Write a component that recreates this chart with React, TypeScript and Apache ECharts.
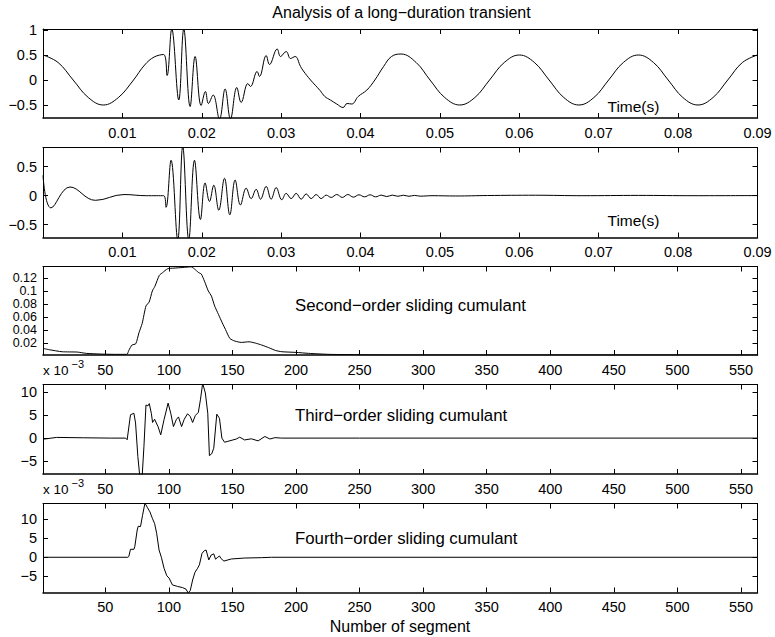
import React, { useEffect, useRef } from "react";
import * as echarts from "echarts";

// ---------- Data ----------
// Panel 1: original signal (time in s)
const sigTime = [
  0, 0.0019, 0.0038, 0.0057, 0.0076, 0.0095, 0.0114, 0.0128, 0.014, 0.0152,
  0.01563, 0.01622, 0.0171, 0.01773, 0.01853, 0.01916, 0.01992, 0.02046, 0.02084, 0.02143,
  0.02223, 0.02294, 0.02361, 0.02441, 0.02496, 0.0258, 0.02613, 0.02697, 0.02727, 0.02811,
  0.02853, 0.0295, 0.02992, 0.03063, 0.03118, 0.03176, 0.03244, 0.0328, 0.0337, 0.0349,
  0.0355, 0.0362, 0.037, 0.0378, 0.0383, 0.0389, 0.0397, 0.0408, 0.0418, 0.0429,
  0.0439, 0.0451, 0.047, 0.04875, 0.0506, 0.0525, 0.0544, 0.05625, 0.0581, 0.06,
  0.0619, 0.06375, 0.0656, 0.0675, 0.0694, 0.07125, 0.0731, 0.075, 0.0769, 0.07875,
  0.0806, 0.0825, 0.0844, 0.08625, 0.0881, 0.09,
];
const sigValue = [
  0.5, 0.35, 0, -0.35, -0.5, -0.35, 0, 0.3, 0.46, 0.51,
  0.09, 1.02, -0.4, 1.02, -0.53, 0.47, -0.51, -0.23, -0.47, -0.3,
  -0.78, -0.18, -0.78, -0.15, -0.45, -0.07, -0.13, 0.17, 0.07, 0.49,
  0.31, 0.62, 0.47, 0.57, 0.43, 0.47, 0.27, 0.18, 0, -0.21,
  -0.33, -0.4, -0.48, -0.55, -0.47, -0.48, -0.33, -0.2, 0, 0.27,
  0.47, 0.52, 0.35, 0, -0.35, -0.5, -0.35, 0, 0.35, 0.5,
  0.35, 0, -0.35, -0.5, -0.35, 0, 0.35, 0.5, 0.35, 0,
  -0.35, -0.5, -0.35, 0, 0.35, 0.5,
];

// Panel 2: transient component (time in s)
const transTime = [
  0, 0.001, 0.0034, 0.0066, 0.0102, 0.013, 0.0152, 0.0155, 0.01613, 0.01697,
  0.0176, 0.01836, 0.01908, 0.01983, 0.02042, 0.02097, 0.02151, 0.02214, 0.02286, 0.02353,
  0.0242, 0.02487, 0.02559, 0.02622, 0.02685, 0.0274, 0.02811, 0.02874, 0.02937, 0.03008,
  0.03063, 0.03126, 0.03189, 0.03252, 0.03315, 0.03378, 0.03441, 0.03504, 0.03567, 0.0363,
  0.037, 0.0377, 0.0384, 0.0391, 0.0398, 0.0405, 0.0412, 0.0419, 0.0426, 0.0433,
  0.044, 0.0447, 0.0454, 0.0461, 0.0468, 0.0475, 0.049, 0.052, 0.056, 0.062,
  0.068, 0.075, 0.082, 0.09,
];
const transValue = [
  0.35, -0.21, 0.15, -0.08, 0.02, 0, 0, -0.2, 0.61, -0.76,
  0.85, -0.76, 0.61, -0.41, 0.22, -0.1, 0.18, -0.25, 0.3, -0.33,
  0.27, -0.16, 0.13, -0.05, 0.11, -0.06, 0.16, -0.06, 0.14, -0.07,
  0.04, -0.05, 0.04, -0.06, 0.03, -0.05, 0.02, -0.05, 0.01, -0.03,
  0.02, -0.03, 0.02, -0.025, 0.015, -0.02, 0.015, -0.02, 0.01, -0.015,
  0.01, -0.01, 0.008, -0.01, 0.005, -0.008, 0, -0.005, 0.003, 0.008,
  0, 0.005, 0, 0.002,
];

// Panel 3: second-order sliding cumulant (segment index)
const c2Segment = [
  1, 6, 16, 28, 35, 46, 57, 67, 68.5, 71,
  74, 76.5, 79, 82, 84.5, 87, 89, 92.5, 95, 99,
  104, 111, 117.5, 120, 123.5, 125.5, 128, 131, 133.5, 136,
  139, 142, 144.5, 148, 152, 157, 163, 168, 173, 178.5,
  184, 189, 200, 210, 226, 245, 258, 300, 400, 563,
];
const c2Value = [
  0.0118, 0.0098, 0.0067, 0.0062, 0.0042, 0.0032, 0.0027, 0.0027, 0.0088, 0.017,
  0.019, 0.036, 0.05, 0.077, 0.083, 0.1, 0.107, 0.124, 0.128, 0.134,
  0.135, 0.136, 0.137, 0.134, 0.128, 0.126, 0.115, 0.1, 0.092, 0.077,
  0.064, 0.051, 0.041, 0.027, 0.023, 0.021, 0.022, 0.02, 0.017, 0.013,
  0.0086, 0.0067, 0.0057, 0.0042, 0.0027, 0.0022, 0.0018, 0.0017, 0.0017, 0.0017,
];

// Panel 4: third-order sliding cumulant (x 10^-3)
const c3Segment = [
  1, 2.3, 11.6, 33, 54, 66, 67.2, 69.8, 72.5, 73.8,
  75.6, 77.2, 79, 80.4, 82, 83.5, 84.6, 86.2, 87.2, 88.8,
  90.1, 91.5, 93.6, 96.2, 99.4, 101.5, 103.6, 106, 107.6, 110,
  112.1, 114.7, 116.8, 118.7, 120.8, 123.2, 124.8, 126.6, 128.7, 130.6,
  131.9, 133.7, 135.3, 137.7, 139.8, 141.7, 143.8, 146.4, 150.4, 153,
  155.7, 159.6, 164.9, 170.2, 175.5, 179.5, 183.4, 188.7, 250, 563,
];
const c3Value = [
  -0.2, -0.2, 0.15, 0.07, 0, 0, -0.36, 5.07, 5.4, 3.3,
  -4, -8.5, -8.3, -1.8, 7.2, 7.0, 7.5, 5.4, 3.4, 4.1,
  3.3, 2.5, 0.7, 4, 7.6, 5.4, 2.5, 4.1, 4.6, 2.5,
  4.1, 5.3, 4.7, 3.4, 4.9, 5.6, 8.3, 11.9, 9.8, 5.4,
  -3.8, -3.4, -2.2, 5.2, 4.3, 0, -0.9, -0.7, -0.4, -0.2,
  0.2, -0.4, -0.15, -0.6, 0.35, -0.2, 0.1, 0, 0, 0,
];

// Panel 5: fourth-order sliding cumulant (x 10^-3)
const c4Segment = [
  1, 67.7, 68.5, 69.8, 72.5, 73.2, 75.1, 75.9, 77.7, 79.3,
  81.2, 83, 85.1, 87, 88.8, 90.4, 92.3, 94.1, 96.2, 98.4,
  100.2, 102.8, 106.8, 110.7, 113.4, 115.2, 116.8, 118.7, 120.5, 122.6,
  124, 126.1, 127.9, 129.3, 131.4, 133.3, 135.3, 136.7, 138.5, 139.8,
  141.1, 143.3, 149.1, 159.6, 172.8, 180.8, 563,
];
const c4Value = [
  0, 0, 0.2, 2.1, 2.1, 2.8, 7.2, 8.2, 8.1, 11.1,
  14.3, 13.2, 12, 10.3, 8.9, 6.3, 1.9, 0, -2.9, -4.9,
  -5.5, -7.3, -7.7, -8.0, -8.4, -9.4, -8.8, -6, -4, -2.9,
  -2, 1.05, 1.75, 1.9, -0.7, 0.6, 0.9, -0.5, 0, 0.35,
  -0.35, -1.0, -0.45, -0.2, -0.1, 0, 0,
];

// Tick labels
const timeTicks = [0.01, 0.02, 0.03, 0.04, 0.05, 0.06, 0.07, 0.08, 0.09];
const segmentTicks = [50, 100, 150, 200, 250, 300, 350, 400, 450, 500, 550];
const sigYTicks = [-0.5, 0, 0.5, 1];
const transYTicks = [-0.5, 0, 0.5];
const c2YTicks = [0.02, 0.04, 0.06, 0.08, 0.1, 0.12];
const c3YTicks = [-5, 0, 5, 10];
const c4YTicks = [-5, 0, 5, 10];

const FONT = '"Liberation Sans", Arial, Helvetica, sans-serif';
const TICK_FS = 14.5;

export default function App() {
  const ref = useRef<HTMLDivElement>(null);

  useEffect(() => {
    if (!ref.current) return;
    const chart = echarts.init(ref.current, undefined, { renderer: "svg" });

    const panels = [
      { top: 29, height: 89, x: [0, 0.09], xt: timeTicks, y: [-0.76, 1.02], yt: sigYTicks, yfs: TICK_FS, xs: sigTime, ys: sigValue, smooth: 0.4 },
      { top: 147.5, height: 90, x: [0, 0.09], xt: timeTicks, y: [-0.72, 0.83], yt: transYTicks, yfs: TICK_FS, xs: transTime, ys: transValue, smooth: 0.4 },
      { top: 266.5, height: 88.5, x: [1, 563], xt: segmentTicks, y: [0.0017, 0.1375], yt: c2YTicks, yfs: 12.5, xs: c2Segment, ys: c2Value, smooth: 0.2 },
      { top: 384.5, height: 89.5, x: [1, 563], xt: segmentTicks, y: [-7.8, 11.65], yt: c3YTicks, yfs: TICK_FS, xs: c3Segment, ys: c3Value, smooth: 0 },
      { top: 503.5, height: 89, x: [1, 563], xt: segmentTicks, y: [-9.3, 14.2], yt: c4YTicks, yfs: TICK_FS, xs: c4Segment, ys: c4Value, smooth: 0 },
    ];

    const fmt = (v: number) => String(v).replace("-", "\u2212");
    const lineStyle = { color: "#000", width: 1 };

    const grid: any[] = [];
    const xAxis: any[] = [];
    const yAxis: any[] = [];
    const series: any[] = [];

    panels.forEach((p, i) => {
      grid.push({ left: 43, top: p.top, width: 714.5, height: p.height, containLabel: false });
      ["bottom", "top"].forEach((pos, k) => {
        xAxis.push({
          type: "value",
          gridIndex: i,
          position: pos,
          min: p.x[0],
          max: p.x[1],
          axisLine: { show: true, onZero: false, lineStyle: { color: "#000", width: k === 0 ? 1.5 : 1 } },
          axisTick: { show: true, inside: true, length: 5, customValues: p.xt, lineStyle: { color: "#000", width: 1 } },
          axisLabel: {
            show: k === 0,
            customValues: p.xt,
            formatter: fmt,
            color: "#000",
            fontFamily: FONT,
            fontSize: TICK_FS,
            margin: 7,
            showMinLabel: true,
            showMaxLabel: true,
          },
          splitLine: { show: false },
        });
      });
      ["left", "right"].forEach((pos, k) => {
        yAxis.push({
          type: "value",
          gridIndex: i,
          position: pos,
          min: p.y[0],
          max: p.y[1],
          axisLine: { show: true, onZero: false, lineStyle: { color: "#000", width: 1 } },
          axisTick: { show: true, inside: true, length: 5, customValues: p.yt, lineStyle: { color: "#000", width: 1 } },
          axisLabel: {
            show: k === 0,
            customValues: p.yt,
            formatter: fmt,
            color: "#000",
            fontFamily: FONT,
            fontSize: p.yfs,
            lineHeight: p.yfs,
            margin: 6,
            showMinLabel: true,
            showMaxLabel: true,
            hideOverlap: false,
          },
          splitLine: { show: false },
        });
      });
      series.push({
        type: "line",
        xAxisIndex: 2 * i,
        yAxisIndex: 2 * i,
        data: p.xs.map((t, j) => [t, p.ys[j]]),
        showSymbol: false,
        symbol: "none",
        smooth: p.smooth || false,
        clip: true,
        silent: true,
        lineStyle,
      });
    });

    const txt = (x: number, y: number, s: string, size = 15, align = "left") => ({
      type: "text",
      x,
      y,
      style: { text: s, fill: "#000", font: `${size}px ${FONT}`, textAlign: align, textVerticalAlign: "middle" },
      silent: true,
    });

    const option: any = {
      animation: false,
      backgroundColor: "#fff",
      grid,
      xAxis,
      yAxis,
      series,
      graphic: [
        txt(401.5, 12.5, "Analysis of a long\u2212duration transient", 16, "center"),
        txt(607.5, 106.5, "Time(s)", 15.5),
        txt(607.5, 220.5, "Time(s)", 15.5),
        txt(295, 305.5, "Second\u2212order sliding cumulant", 16.8),
        txt(295, 415, "Third\u2212order sliding cumulant", 16.8),
        txt(295, 538.5, "Fourth\u2212order sliding cumulant", 16.8),
        txt(400, 626, "Number of segment", 16, "center"),
        txt(43, 370.5, "x 10", 13.5),
        txt(71.5, 364, "\u22123", 11),
        txt(43, 489, "x 10", 13.5),
        txt(71.5, 482.5, "\u22123", 11),
      ],
    };

    chart.setOption(option);
    return () => chart.dispose();
  }, []);

  return (
    <div
      ref={ref}
      style={{ position: "fixed", left: 0, top: 0, width: 775, height: 637, background: "#fff" }}
    />
  );
}
